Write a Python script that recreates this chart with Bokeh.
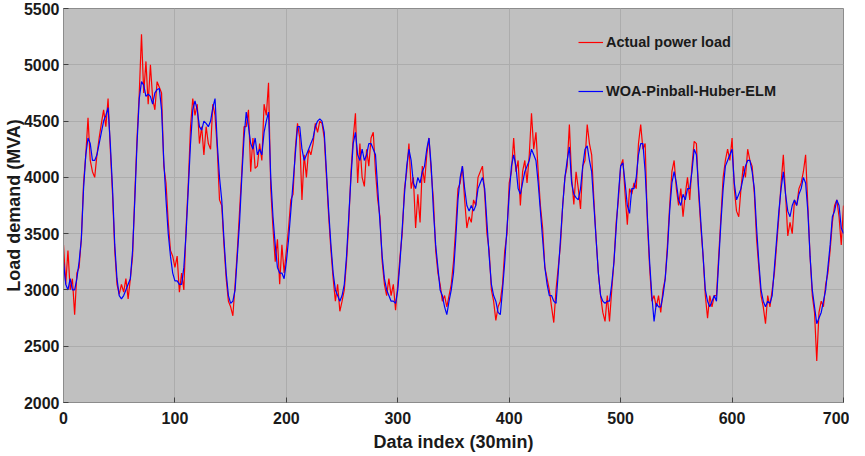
from bokeh.plotting import figure
from bokeh.models import Legend, LegendItem, FixedTicker, Range1d
from bokeh.embed import file_html
from bokeh.resources import INLINE

# ---- data (one sample every 2 indices) ----
x_index = list(range(0, 701, 2))

actual_load = [
    3400,3050,3350,3000,3100,2780,3150,3200,3450,3950,4200,4530,4150,4050,4000,4200,4350,4480,4600,4450,4700,4250,3850,3350,3050,
    2960,3050,2980,3100,2920,3100,3300,3850,4350,4750,5270,4750,5030,4650,5000,4700,4600,4850,4800,4750,4100,3950,3600,3350,3300,
    3200,3300,2980,3150,3000,3550,3950,4450,4700,4550,4650,4300,4450,4200,4450,4300,4250,4650,4550,4250,3800,3750,3400,3100,2900,
    2850,2770,3050,3350,3700,4050,4450,4450,4600,4050,4350,4080,4100,4300,4150,4650,4550,4840,3900,3550,3250,3450,3050,3400,3150,
    3350,3550,3800,3850,4250,4480,4350,3800,4200,4000,4250,4200,4300,4480,4400,4500,4480,4350,4000,3650,3350,3100,2900,3050,2810,
    2900,3000,3250,3600,4050,4350,4570,3950,4300,4000,3920,4250,4100,4350,4400,4050,3800,3650,3250,3050,2950,3100,2950,3050,2820,
    3050,3300,3500,3900,4050,4300,3900,4000,3550,3850,3600,4100,3950,4200,4350,4050,3800,3350,3150,3050,2900,2950,2850,2950,3050,
    3250,3550,3900,3950,4100,3800,3550,3650,3600,3800,3750,4000,4050,4100,3850,3500,3350,3000,2900,2730,2850,2900,3050,3350,3500,
    3950,4050,4350,4050,4150,3750,4050,4150,3950,4200,4570,4250,4400,4050,3750,3550,3200,3100,3000,2850,2710,3000,3200,3400,3750,
    4000,4100,4470,4000,3760,4050,3900,3720,4100,4150,4470,4300,4200,3800,3450,3150,2950,2800,2720,2950,2720,3000,3250,3600,3800,
    4100,4160,3850,3580,3900,3850,3950,3900,4300,4470,4250,4300,3600,3200,2900,2950,2850,2950,2800,3000,3100,3400,3750,4050,4150,
    3900,3750,3900,3650,3850,4000,3800,4100,4320,4300,3850,3550,3300,2950,2750,2950,2850,2950,2950,3300,3650,4000,4150,4250,4150,
    4350,3900,3700,3650,3900,4100,4000,4250,4150,4100,3850,3450,3200,2950,2850,2700,2950,2850,3000,3150,3400,3650,3950,4200,3850,
    3480,3600,3500,3800,3750,3900,3950,4050,4200,3750,3300,2950,2800,2370,2800,2900,2850,3050,3150,3350,3600,3750,3800,3650,3400,
    3750,
]

predicted_load = [
    3250,3050,3000,3100,3000,3000,3100,3250,3450,3900,4200,4350,4300,4150,4150,4200,4300,4400,4500,4550,4620,4300,3900,3400,3100,
    2950,2920,2950,3000,3050,3100,3350,3800,4300,4700,4850,4820,4720,4740,4720,4650,4750,4780,4790,4600,4150,3800,3500,3300,3150,
    3080,3080,3050,3050,3200,3500,3900,4300,4600,4680,4600,4450,4420,4500,4480,4450,4500,4620,4700,4300,4000,3800,3450,3150,2950,
    2880,2900,3000,3300,3600,4000,4350,4580,4450,4300,4250,4350,4200,4250,4200,4400,4500,4580,4000,3650,3400,3200,3150,3150,3100,
    3250,3450,3700,3950,4200,4450,4450,4250,4150,4200,4250,4300,4350,4450,4500,4520,4500,4400,4050,3700,3400,3150,3000,2950,2900,
    2950,3050,3300,3650,4000,4300,4400,4200,4150,4250,4150,4200,4300,4300,4250,4200,3900,3600,3300,3100,3000,2950,2900,2900,2880,
    3000,3250,3550,3850,4100,4250,4150,3950,3900,4000,3950,4050,4100,4250,4350,4100,3700,3400,3200,3000,2950,2850,2780,2900,3000,
    3150,3450,3800,4000,4100,3900,3750,3700,3750,3700,3750,3900,3950,4000,3900,3600,3300,3050,2950,2900,2800,2780,3000,3250,3550,
    3850,4100,4200,4100,3900,3850,3950,4050,4100,4150,4250,4200,4150,3950,3700,3450,3200,3050,2950,2950,2900,2880,3150,3450,3750,
    4000,4150,4270,3950,3850,3820,3800,3900,4100,4250,4280,4150,4050,3750,3450,3150,2950,2900,2880,2900,2900,3050,3250,3550,3850,
    4100,4130,3950,3750,3680,3900,3900,4000,4200,4300,4300,4050,3650,3250,2950,2720,2880,2850,2850,2950,3100,3350,3700,3950,4050,
    3950,3800,3750,3850,3800,3900,3900,4050,4250,4200,3900,3600,3300,3000,2900,2850,2900,2950,2900,3250,3600,3900,4100,4150,4200,
    4250,3950,3800,3850,3900,4000,4100,4150,4150,4050,3900,3550,3250,3000,2900,2850,2900,2880,2950,3200,3450,3700,3900,4050,3850,
    3700,3650,3750,3800,3750,3850,3900,4000,3950,3700,3300,3000,2850,2700,2750,2800,2900,3000,3200,3400,3650,3700,3800,3750,3550,
    3500,
]

x_ticks = [0, 100, 200, 300, 400, 500, 600, 700]
y_ticks = [2000, 2500, 3000, 3500, 4000, 4500, 5000, 5500]
series_names = ["Actual power load", "WOA-Pinball-Huber-ELM"]
series_colors = ["#ff0000", "#0000ff"]

FONT = "Liberation Sans"
AXLINE = "#8c8c8c"
TICK = "#404040"
TXT = "#1a1a1a"

p = figure(width=849, height=454, output_backend="svg", toolbar_location=None,
           x_range=Range1d(0, 700), y_range=Range1d(2000, 5500),
           min_border_left=54, min_border_right=6, min_border_top=8, min_border_bottom=50)
p.background_fill_color = "#c0c0c0"
p.border_fill_color = "white"
p.outline_line_color = AXLINE
p.outline_line_width = 1

r_act = p.line(x_index, actual_load, line_color=series_colors[0], line_width=1.2)
r_pred = p.line(x_index, predicted_load, line_color=series_colors[1], line_width=1.2)

for ax in (p.xaxis[0], p.yaxis[0]):
    ax.axis_line_color = AXLINE
    ax.major_tick_line_color = TICK
    ax.major_tick_in = 5
    ax.major_tick_out = 0
    ax.minor_tick_line_color = None
    ax.major_label_text_font = FONT
    ax.major_label_text_font_style = "bold"
    ax.major_label_text_font_size = "16px"
    ax.major_label_text_color = TXT
    ax.axis_label_text_font = FONT
    ax.axis_label_text_font_style = "bold"
    ax.axis_label_text_font_size = "18px"
    ax.axis_label_text_color = TXT

p.xaxis[0].ticker = FixedTicker(ticks=x_ticks)
p.yaxis[0].ticker = FixedTicker(ticks=y_ticks)
p.xaxis[0].axis_label = "Data index (30min)"
p.yaxis[0].axis_label = "Load demand (MVA)"
p.xaxis[0].major_label_standoff = 9
p.xaxis[0].axis_label_standoff = 5
p.yaxis[0].major_label_standoff = 4
p.yaxis[0].axis_label_standoff = -3

p.xgrid.ticker = FixedTicker(ticks=x_ticks)
p.ygrid.ticker = FixedTicker(ticks=y_ticks)
p.grid.grid_line_color = "#acacac"
p.grid.grid_line_alpha = 1

legend = Legend(items=[LegendItem(label=series_names[0], renderers=[r_act]),
                       LegendItem(label=series_names[1], renderers=[r_pred])],
                location=(515, 301))
legend.background_fill_alpha = 0
legend.border_line_alpha = 0
legend.padding = 0
legend.margin = 0
legend.spacing = 29
legend.glyph_width = 25
legend.glyph_height = 20
legend.label_standoff = 3
legend.label_text_font = FONT
legend.label_text_font_style = "bold"
legend.label_text_font_size = "14.5px"
legend.label_text_color = TXT
p.add_layout(legend, "center")

open("out.html", "w").write(file_html(p, INLINE))
